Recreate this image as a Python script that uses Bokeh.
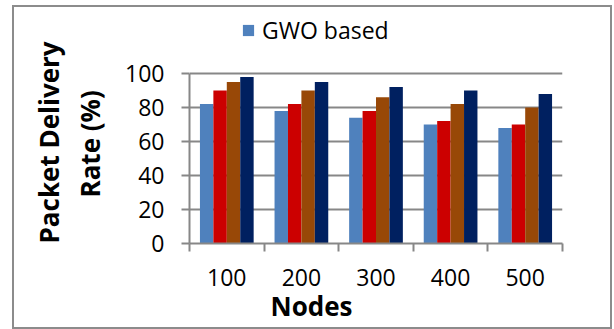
from bokeh.embed import file_html
from bokeh.models import (ColumnDataSource, FixedTicker, Legend, LegendItem,
                          Range1d, Title)
from bokeh.plotting import figure
from bokeh.resources import INLINE

# Packet delivery rate (%) by number of nodes, four schemes
nodes = ["100", "200", "300", "400", "500"]
gwo_based = [82, 78, 74, 70, 68]
scheme_2 = [90, 82, 78, 72, 70]
scheme_3 = [95, 90, 86, 82, 80]
scheme_4 = [98, 95, 92, 90, 88]
y_ticks = [0, 20, 40, 60, 80, 100]

series = [gwo_based, scheme_2, scheme_3, scheme_4]
colors = ["#4F81BD", "#CC0000", "#984807", "#002060"]
offsets = [-0.27, -0.09, 0.09, 0.27]
bar_w = 0.18

FONT = "Open Sans"
GRAY = "#878787"

# the plot frame reaches above the value axis so the legend can sit there
plot_h = 170          # pixels from 0 to 100
frame_h = 228         # frame height including the legend strip
p = figure(width=596, height=320, output_backend="svg", toolbar_location=None,
           x_range=Range1d(0.5, len(nodes) + 0.5),
           y_range=Range1d(0, 100 * frame_h / plot_h),
           min_border_left=175, min_border_right=48,
           min_border_top=8, min_border_bottom=84)
# chart area sits inside a thin grey border
p.margin = (7, 0, 0, 14)
p.styles = {"box-shadow": "0 0 0 2px #8C8C8C"}
p.outline_line_color = None
p.background_fill_color = "white"
p.border_fill_color = "white"

positions = list(range(1, len(nodes) + 1))
renderers = []
for vals, col, off in zip(series, colors, offsets):
    src = ColumnDataSource(dict(x=[i + off for i in positions], top=vals))
    r = p.vbar(x="x", top="top", bottom=0, width=bar_w, source=src,
               fill_color=col, line_color=None)
    renderers.append(r)

# y axis and horizontal gridlines
p.yaxis.ticker = FixedTicker(ticks=y_ticks)
p.yaxis.bounds = (0, 100)
p.yaxis.axis_line_color = GRAY
p.yaxis.axis_line_width = 2
p.yaxis.major_tick_line_color = GRAY
p.yaxis.major_tick_line_width = 2
p.yaxis.major_tick_out = 8
p.yaxis.major_tick_in = 0
p.yaxis.minor_tick_line_color = None
p.yaxis.major_label_standoff = 17
p.yaxis.major_label_text_font = FONT
p.yaxis.major_label_text_font_size = "23px"
p.yaxis.major_label_text_color = "black"
p.ygrid.grid_line_color = GRAY
p.ygrid.grid_line_width = 2
p.xgrid.grid_line_color = None

# x axis: labels at category centres, tick marks between categories
p.xaxis.ticker = FixedTicker(ticks=positions,
                             minor_ticks=[i + 0.5 for i in range(len(nodes) + 1)])
p.xaxis.major_label_overrides = {i: n for i, n in zip(positions, nodes)}
p.xaxis.axis_line_color = GRAY
p.xaxis.axis_line_width = 2
p.xaxis.major_tick_line_color = None
p.xaxis.major_tick_out = 0
p.xaxis.major_tick_in = 0
p.xaxis.minor_tick_line_color = GRAY
p.xaxis.minor_tick_line_width = 2
p.xaxis.minor_tick_out = 8
p.xaxis.minor_tick_in = 0
p.xaxis.major_label_standoff = 17
p.xaxis.major_label_text_font = FONT
p.xaxis.major_label_text_font_size = "23px"
p.xaxis.major_label_text_color = "black"

# axis titles
title_style = dict(text_font=FONT, text_font_size="26px",
                   text_font_style="bold", text_color="black")
p.add_layout(Title(text="Rate (%)", align="left", offset=46,
                   vertical_align="bottom", standoff=30, **title_style), "left")
p.add_layout(Title(text="Packet Delivery", align="left", offset=0,
                   vertical_align="bottom", standoff=-24, **title_style), "left")
p.add_layout(Title(text="Nodes", align="left", offset=81,
                   vertical_align="top", standoff=-1, **title_style), "below")

# legend
legend = Legend(items=[LegendItem(label="GWO based", renderers=[renderers[0]])],
                location=(52, 197), orientation="horizontal",
                glyph_width=14, glyph_height=14, label_standoff=7,
                label_height=30, padding=0, margin=0, border_line_color=None,
                background_fill_alpha=0, label_text_font=FONT,
                label_text_font_size="23px", label_text_color="black")
p.add_layout(legend, "center")

open("out.html", "w").write(file_html(p, INLINE))
